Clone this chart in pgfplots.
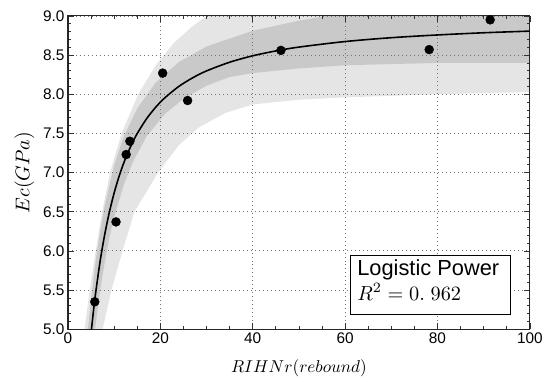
\documentclass[border=0pt]{standalone}
\usepackage{graphicx}
\usepackage{fontspec}
\setmainfont{Liberation Sans}
\usepackage{pgfplots}
\pgfplotsset{compat=1.18}
\begin{document}
\begin{tikzpicture}
\begin{axis}[
  scale only axis, width=464bp, height=314.7bp,
  xmin=0, xmax=100, ymin=5, ymax=9,
  xtick={0,20,40,60,80,100},
  ytick={5,5.5,6,6.5,7,7.5,8,8.5,9},
  minor x tick num=3, minor y tick num=4,
  tick align=inside, tick pos=both,
  major tick length=6bp, minor tick length=3bp,
  grid=major,
  major grid style={black!55, line width=0.8bp, dash pattern=on 1bp off 3bp},
  axis line style={black!85, line width=1.1bp},
  tick style={black!80, line width=0.7bp},
  /pgf/number format/assume math mode=true,
  y tick label style={/pgf/number format/.cd, fixed, fixed zerofill, precision=1, /tikz/.cd},
  tick label style={font=\fontsize{15.5}{18}\selectfont},
  xlabel={\scalebox{1.73}{$RIHNr(rebound)$}},
  ylabel={\scalebox{2.0}{$Ec(GPa)$}},
  xlabel shift=9bp,
  ylabel shift=2bp,
  set layers, clip mode=individual,
]
% outer (prediction) band
\addplot[fill=black!10, draw=none, on layer=axis background] coordinates {
 (3.3,4.8) (3.6,5.0) (4.7,5.5) (6.0,6.0) (7.4,6.5) (9.1,7.0) (11.6,7.5) (15.2,8.0)
 (19,8.37) (23,8.66) (27,8.87) (30,9.0) (40,9.25) (60,9.5) (101,9.8)
 (101,8.03) (80,8.0) (60,7.96) (50,7.93) (40,7.87) (34,7.76) (28.4,7.58) (24,7.35)
 (19.5,7.0) (14.4,6.5) (11.8,6.0) (9.4,5.5) (7.5,5.0) (7.2,4.8)
};
% inner (confidence) band
\addplot[fill=black!21, draw=none, on layer=axis background] coordinates {
 (4.0,4.81) (4.5,5.11) (5,5.39) (6,5.87) (7,6.26) (8,6.59) (10,7.09) (12,7.45)
 (15,7.82) (19,8.15) (24,8.41) (30,8.61) (40,8.81) (50,8.94) (60,9.04) (80,9.18) (101,9.28)
 (101,8.40) (80,8.40) (60,8.37) (50,8.33) (40,8.27) (35,8.22) (30,8.11) (25,7.94)
 (21,7.75) (17,7.46) (14,7.13) (12,6.83) (10,6.43) (9,6.18) (8,5.87) (7,5.51) (6,5.07) (5.5,4.80)
};
% fitted curve
\addplot[black, line width=1.6bp, smooth, no marks] coordinates {
 (5,4.953) (5.5,5.224) (6,5.468) (7,5.884) (8,6.224) (9,6.505) (10,6.741) (11,6.940)
 (12,7.111) (13,7.258) (14,7.386) (15,7.499) (17,7.686) (19,7.835) (21,7.956) (24,8.100)
 (27,8.210) (30,8.298) (35,8.409) (40,8.491) (45,8.553) (50,8.602) (60,8.673) (70,8.722)
 (80,8.757) (90,8.785) (100,8.806)
};
% data
\addplot[only marks, mark=*, mark size=4.5bp, black] coordinates {
 (5.8,5.35) (10.4,6.37) (12.6,7.23) (13.4,7.40) (20.5,8.27) (25.9,7.92) (46.1,8.56) (78.2,8.57) (91.4,8.95)
};
\draw[black, line width=1.1bp, fill=white] (axis cs:61.1,5.19) rectangle (axis cs:95.8,5.94);
\node[anchor=base west, inner sep=0] at (axis cs:62.6,5.68) {\fontsize{22}{26}\selectfont Logistic Power};
\node[anchor=base west, inner sep=0] at (axis cs:62.6,5.37) {\scalebox{2.05}{$R^2=0.\;962$}};
\coordinate (SW) at (rel axis cs:0,0);
\coordinate (NE) at (rel axis cs:1,1);
\end{axis}
\path ([shift={(-68.3bp,-52.3bp)}]SW) rectangle ([shift={(13.7bp,16bp)}]NE);
\end{tikzpicture}
\end{document}
